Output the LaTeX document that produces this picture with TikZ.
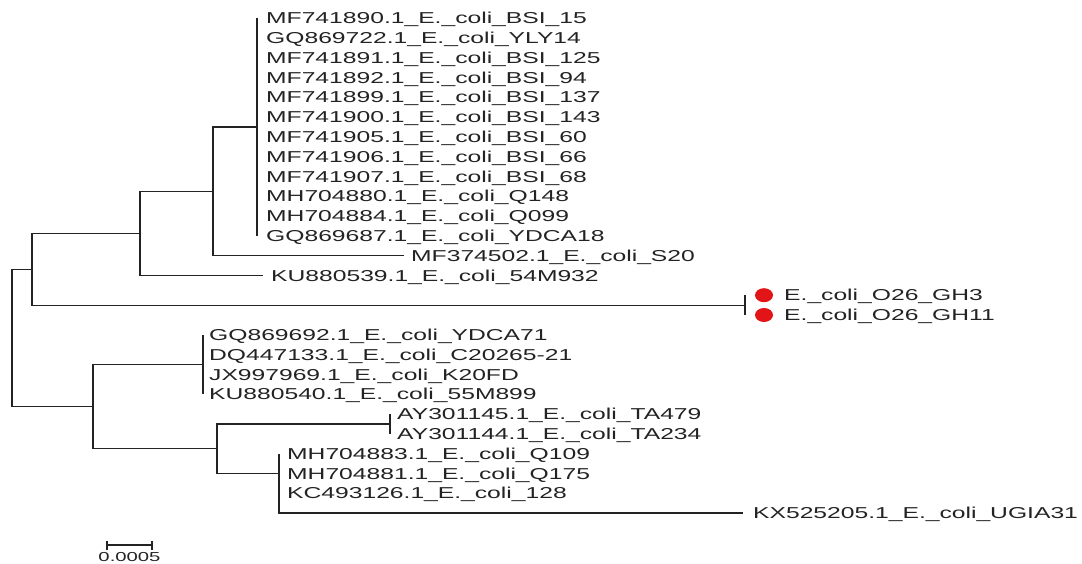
\documentclass[tikz,border=0pt]{standalone}
\usepackage{fontspec}
\newfontfamily\labfont[FakeStretch=1.56]{Liberation Sans}
\definecolor{ink}{RGB}{35,35,35}
\definecolor{dotred}{RGB}{226,20,24}
\begin{document}
\begin{tikzpicture}[x=1pt,y=-1pt,
  br/.style={line width=1.2pt, draw=ink},
  lab/.style={anchor=base west, inner sep=0pt, text=ink, font=\labfont\fontsize{15.8}{18}\selectfont},
  sclab/.style={anchor=base, inner sep=0pt, text=ink, font=\labfont\fontsize{13}{15}\selectfont},
  reddot/.style={fill=dotred, draw=none}]
\useasboundingbox (0,0) rectangle (1082,563);
% internal nodes
\coordinate (A) at (257,126.9);
\coordinate (B) at (213,191.25);
\coordinate (C) at (140,233.3);
\coordinate (D) at (32,269.2);
\coordinate (GH) at (745,305.1);
\coordinate (R) at (12,337.9);
\coordinate (F) at (203,364.5);
\coordinate (E) at (93,406.6);
\coordinate (G) at (217,448.7);
\coordinate (AY) at (390,423.9);
\coordinate (I) at (279,473.4);
% leaves
\foreach \i/\y in {0/18,1/37.8,2/57.6,3/77.4,4/97.2,5/117,6/136.8,7/156.6,8/176.4,9/196.2,10/216,11/235.8}
  {\coordinate (t\i) at (257,\y);}
\coordinate (m12) at (404,255.6);
\coordinate (k13) at (263,275.4);
\coordinate (g14) at (745,295.2);
\coordinate (g15) at (745,315);
\foreach \i/\y in {16/334.8,17/354.6,18/374.4,19/394.2}
  {\coordinate (f\i) at (203,\y);}
\coordinate (a20) at (390,414);
\coordinate (a21) at (390,433.8);
\coordinate (h22) at (279,453.6);
\coordinate (h23) at (279,473.4);
\coordinate (h24) at (279,493.2);
\coordinate (x25) at (743,513);
% branches
\foreach \i in {0,...,11} {\draw[br] (A) |- (t\i);}
\draw[br] (B) |- (A);
\draw[br] (B) |- (m12);
\draw[br] (C) |- (B);
\draw[br] (C) |- (k13);
\draw[br] (D) |- (C);
\draw[br] (D) |- (GH);
\draw[br] (GH) |- (g14);
\draw[br] (GH) |- (g15);
\draw[br] (R) |- (D);
\draw[br] (R) |- (E);
\draw[br] (E) |- (F);
\draw[br] (E) |- (G);
\foreach \i in {16,...,19} {\draw[br] (F) |- (f\i);}
\draw[br] (G) |- (AY);
\draw[br] (G) |- (I);
\draw[br] (AY) |- (a20);
\draw[br] (AY) |- (a21);
\draw[br] (I) |- (h22);
\draw[br] (I) |- (h23);
\draw[br] (I) |- (h24);
\draw[br] (I) |- (x25);
% labels
\foreach \i/\t in {0/MF741890.1\_E.\_coli\_BSI\_15,1/GQ869722.1\_E.\_coli\_YLY14,2/MF741891.1\_E.\_coli\_BSI\_125,3/MF741892.1\_E.\_coli\_BSI\_94,4/MF741899.1\_E.\_coli\_BSI\_137,5/MF741900.1\_E.\_coli\_BSI\_143,6/MF741905.1\_E.\_coli\_BSI\_60,7/MF741906.1\_E.\_coli\_BSI\_66,8/MF741907.1\_E.\_coli\_BSI\_68,9/MH704880.1\_E.\_coli\_Q148,10/MH704884.1\_E.\_coli\_Q099,11/GQ869687.1\_E.\_coli\_YDCA18}
  {\node[lab] (lt\i) at ([xshift=9pt,yshift=-5.66pt]t\i) {\t};}
\node[lab] (lm12) at ([xshift=7pt,yshift=-5.66pt]m12) {MF374502.1\_E.\_coli\_S20};
\node[lab] (lk13) at ([xshift=8pt,yshift=-5.66pt]k13) {KU880539.1\_E.\_coli\_54M932};
\fill[reddot] ([xshift=19pt]g14) ellipse [x radius=9pt, y radius=7pt];
\fill[reddot] ([xshift=19pt]g15) ellipse [x radius=9pt, y radius=7pt];
\node[lab] (lg14) at ([xshift=39pt,yshift=-5.66pt]g14) {E.\_coli\_O26\_GH3};
\node[lab] (lg15) at ([xshift=39pt,yshift=-5.66pt]g15) {E.\_coli\_O26\_GH11};
\foreach \i/\t in {16/GQ869692.1\_E.\_coli\_YDCA71,17/DQ447133.1\_E.\_coli\_C20265-21,18/JX997969.1\_E.\_coli\_K20FD,19/KU880540.1\_E.\_coli\_55M899}
  {\node[lab] (lf\i) at ([xshift=6pt,yshift=-5.66pt]f\i) {\t};}
\node[lab] (la20) at ([xshift=7pt,yshift=-5.66pt]a20) {AY301145.1\_E.\_coli\_TA479};
\node[lab] (la21) at ([xshift=7pt,yshift=-5.66pt]a21) {AY301144.1\_E.\_coli\_TA234};
\node[lab] (lh22) at ([xshift=8pt,yshift=-5.66pt]h22) {MH704883.1\_E.\_coli\_Q109};
\node[lab] (lh23) at ([xshift=8pt,yshift=-5.66pt]h23) {MH704881.1\_E.\_coli\_Q175};
\node[lab] (lh24) at ([xshift=8pt,yshift=-5.66pt]h24) {KC493126.1\_E.\_coli\_128};
\node[lab] (lx25) at ([xshift=10pt,yshift=-5.66pt]x25) {KX525205.1\_E.\_coli\_UGIA31};
% scale bar
\coordinate (s1) at (107,545);
\coordinate (s2) at (152,545);
\draw[br] (s1) -- (s2);
\draw[br] ([yshift=4.5pt]s1) -- ([yshift=-4.5pt]s1);
\draw[br] ([yshift=4.5pt]s2) -- ([yshift=-4.5pt]s2);
\node[sclab] (sl) at (129.5,561.5) {0.0005};
\end{tikzpicture}
\end{document}
